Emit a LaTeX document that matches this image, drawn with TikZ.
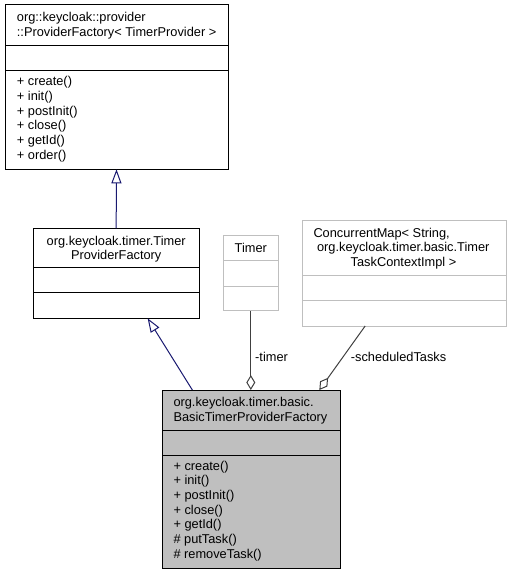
\documentclass[tikz,border=0pt]{standalone}
\usepackage{fontspec}
\setmainfont{Liberation Sans}
\usetikzlibrary{arrows.meta}
\definecolor{umlblue}{HTML}{191970}
\definecolor{umlgray}{HTML}{BFBFBF}
\definecolor{umlline}{HTML}{404040}
\tikzset{
  classbox/.style={draw, inner sep=0pt, outer sep=0pt, line width=1pt},
  txt/.style={inner sep=0pt, anchor=base west, font=\fontsize{12.8}{14.7}\selectfont},
  ctxt/.style={txt, anchor=base},
  inherit/.style={umlblue, line width=1pt, -{Triangle[open,length=14pt,width=10pt]}},
  aggr/.style={umlline, line width=1pt, {Diamond[open,length=15pt,width=9pt]}-},
}

\begin{document}
\begin{tikzpicture}[x=1pt,y=-1pt]
\useasboundingbox (0,0) rectangle (512,575);
% classes
\node[classbox, minimum width=223pt, minimum height=164.3pt] (provider) at (116.5,87.15) {};
\node[classbox, minimum width=165.7pt, minimum height=90pt] (tfactory) at (116.15,273.3) {};
\node[classbox, draw=umlgray, minimum width=55pt, minimum height=75.7pt] (timer) at (250.8,272.85) {};
\node[classbox, draw=umlgray, minimum width=203.7pt, minimum height=105.3pt] (cmap) at (404.15,273.35) {};
\node[classbox, fill=umlgray, minimum width=177.3pt, minimum height=178.3pt] (basic) at (251.35,479.15) {};
% compartments
\foreach \n/\y/\c in {provider/45.7/black, provider/70.7/black, tfactory/267.7/black, tfactory/292.7/black,
    timer/260.7/umlgray, timer/286/umlgray, cmap/275/umlgray, cmap/300.7/umlgray, basic/430/black, basic/455/black}
  \draw[line width=1pt, \c] (\n.west |- 0,\y) -- (\n.east |- 0,\y);

\node[txt] (pt1) at (16.7,21.5) {org::keycloak::provider};
\node[txt] (pt2) at (16.7,36.2) {::ProviderFactory< TimerProvider >};
\foreach \m [count=\i from 0] in {+ create(), + init(), + postInit(), + close(), + getId(), + order()}
  \node[txt] (pm\i) at (16.7,85.7+14.7*\i) {\m};

\node[ctxt] (tt1) at (116.2,245) {org.keycloak.timer.Timer};
\node[ctxt] (tt2) at (116.2,259.7) {ProviderFactory};

\node[ctxt] (ti) at (250.8,252) {Timer};

\node[txt] (ct1) at (313.3,237.2) {ConcurrentMap< String,};
\node[txt] (ct2) at (313.3,251.9) {\ org.keycloak.timer.basic.Timer};
\node[ctxt] (ct3) at (403.5,266.6) {TaskContextImpl >};

\node[txt] (bt1) at (173.3,406.5) {org.keycloak.timer.basic.};
\node[txt] (bt2) at (173.3,421.2) {BasicTimerProviderFactory};
\foreach \m [count=\i from 0] in {+ create(), + init(), + postInit(), + close(), + getId(), \# putTask(), \# removeTask()}
  \node[txt] (bm\i) at (173.3,470+14.7*\i) {\m};

% relations
\draw[inherit] (tfactory.north) -- (provider.south);
\draw[inherit] ([xshift=-59pt]basic.north) -- ([xshift=31.5pt]tfactory.south);
\draw[aggr] (timer.south |- basic.north) -- (timer.south);
\draw[aggr] ([xshift=68pt]basic.north) -- ([xshift=-39pt]cmap.south);
\node[txt] (ltimer) at (255,361) {-timer};
\node[txt] (ltasks) at (350.7,361) {-scheduledTasks};
\end{tikzpicture}
\end{document}
